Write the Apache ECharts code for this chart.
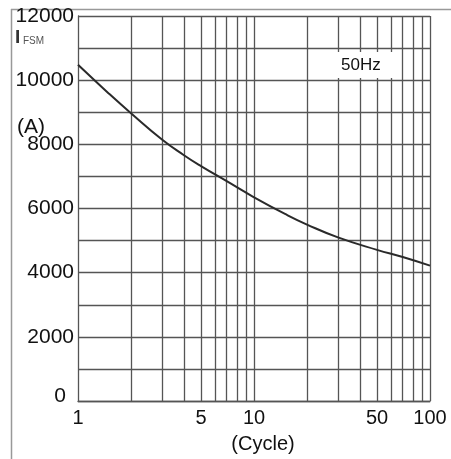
<!DOCTYPE html>
<html>
<head>
<meta charset="utf-8">
<script src="https://cdn.jsdelivr.net/npm/echarts@6/dist/echarts.min.js"></script>
<style>
  html, body { margin: 0; padding: 0; background: #fff; }
  #chart { width: 451px; height: 459px; }
</style>
</head>
<body>
<div id="chart"></div>
<script>
// 浪涌电流 IFSM 与周期数关系（50Hz）
const cycles = [1, 1.5, 2, 3, 4, 5, 7, 10, 15, 20, 30, 50, 70, 100]
const ifsm = [10480, 9580, 8970, 8150, 7660, 7320, 6850, 6350, 5830, 5500, 5100, 4710, 4490, 4220]

// 刻度与网格
const xLabels = [1, 5, 10, 50, 100]
const xGrid = [2, 3, 4, 5, 6, 7, 8, 9, 10, 20, 30, 40, 50, 60, 70, 80, 90, 100]

const gridColor = '#555'
const textColor = '#111'
const font = 'Liberation Sans, Arial, sans-serif'

const chart = echarts.init(document.getElementById('chart'))

const option = {
  animation: false,
  backgroundColor: '#fff',
  grid: { left: 78, right: 21, top: 16, bottom: 56 },
  xAxis: {
    type: 'log',
    logBase: 10,
    min: 1,
    max: 100,
    name: '(Cycle)',
    nameLocation: 'middle',
    nameGap: 33,
    nameTextStyle: { fontSize: 20, color: textColor, fontFamily: font, padding: [0, 0, 0, 18] },
    axisLine: { lineStyle: { color: gridColor, width: 1.3 } },
    axisTick: { show: false },
    splitLine: { show: false },
    axisLabel: {
      customValues: xLabels,
      fontSize: 20,
      color: textColor,
      fontFamily: font,
      margin: 7,
      formatter: (v) => String(Math.round(v))
    }
  },
  yAxis: {
    type: 'value',
    min: 0,
    max: 12000,
    interval: 1000,
    axisLine: { show: true, lineStyle: { color: gridColor, width: 1.3 } },
    axisTick: { show: false },
    splitLine: { show: true, lineStyle: { color: gridColor, width: 1.3 } },
    axisLabel: {
      fontSize: 21,
      color: textColor,
      fontFamily: font,
      margin: 4,
      formatter: (v) => {
        if (v === 0) return '{z|0}'
        return v % 2000 === 0 ? String(v) : ''
      },
      rich: {
        z: { fontSize: 21, color: textColor, fontFamily: font, padding: [0, 8, 10, 0] }
      }
    }
  },
  series: [
    {
      name: 'grid',
      type: 'line',
      data: [],
      silent: true,
      markLine: {
        symbol: 'none',
        silent: true,
        label: { show: false },
        lineStyle: { color: gridColor, width: 1.3, type: 'solid' },
        data: xGrid.map((v) => ({ xAxis: v }))
      }
    },
    {
      name: 'IFSM',
      type: 'line',
      smooth: true,
      showSymbol: false,
      lineStyle: { color: '#2a2a2a', width: 2 },
      data: cycles.map((c, i) => [c, ifsm[i]]),
      z: 5
    }
  ],
  graphic: [
    // 外框（左、上）
    { type: 'line', shape: { x1: 11.5, y1: 9, x2: 11.5, y2: 459 }, style: { stroke: '#999', lineWidth: 1.5 } },
    { type: 'line', shape: { x1: 11, y1: 9.5, x2: 451, y2: 9.5 }, style: { stroke: '#999', lineWidth: 1.5 } },
    // 纵轴名称 IFSM (A)
    { type: 'text', left: 15, top: 28, style: { text: 'I', fill: '#333', font: 'bold 19px ' + font } },
    { type: 'text', left: 23, top: 36, style: { text: 'FSM', fill: '#555', font: '10px ' + font } },
    { type: 'text', left: 17, top: 117, style: { text: '(A)', fill: textColor, font: '21px ' + font } },
    // 50Hz 标注
    {
      type: 'text',
      left: 336,
      top: 52,
      z: 10,
      style: {
        text: '50Hz',
        fill: textColor,
        font: '17px ' + font,
        backgroundColor: '#fff',
        padding: [5, 18, 4, 5]
      }
    }
  ]
}

chart.setOption(option)
</script>
</body>
</html>
